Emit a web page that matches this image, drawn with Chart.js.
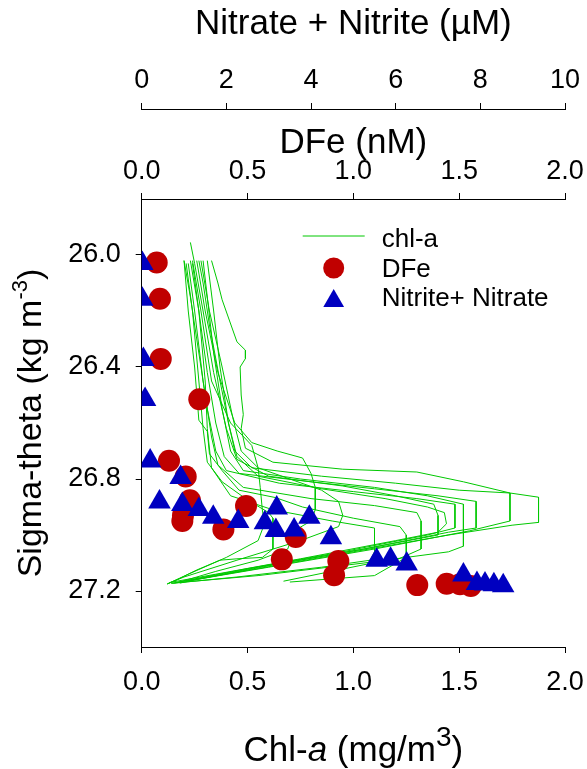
<!DOCTYPE html>
<html>
<head>
<meta charset="utf-8">
<script src="https://cdn.jsdelivr.net/npm/chart.js@4.4.0/dist/chart.umd.min.js"></script>
<style>
  html, body { margin: 0; padding: 0; background: #fff; }
</style>
</head>
<body>
<canvas id="myChart" width="587" height="769"></canvas>
<script>
// tick values for the four axes
var sigmaTicks = [26.0, 26.4, 26.8, 27.2];
var chlTicks = [0, 0.5, 1.0, 1.5, 2.0];
var dfeTicks = [0, 0.5, 1.0, 1.5, 2.0];
var no3Ticks = [0, 2, 4, 6, 8, 10];

// DFe (nM) bottle samples and their sigma-theta
var dfeVal   = [0.071, 0.086, 0.090, 0.272, 0.129, 0.208, 0.228, 0.195, 0.192, 0.386, 0.493, 0.728, 0.662, 0.929, 0.909, 1.302, 1.441, 1.504, 1.555];
var dfeSigma = [26.027, 26.156, 26.371, 26.515, 26.735, 26.791, 26.876, 26.93, 26.95, 26.98, 26.896, 27.007, 27.087, 27.093, 27.144, 27.179, 27.174, 27.176, 27.182];

// Nitrate + Nitrite (uM) samples and their sigma-theta
var no3Val   = [0.015, 0.015, 0.04, 0.08, 0.20, 0.92, 0.42, 0.96, 1.35, 1.69, 2.28, 2.91, 3.19, 3.17, 3.60, 3.96, 4.47, 5.55, 5.88, 6.26, 7.60, 7.92, 8.11, 8.32, 8.54];
var no3Sigma = [26.03, 26.158, 26.373, 26.516, 26.736, 26.795, 26.882, 26.891, 26.909, 26.937, 26.952, 26.956, 26.904, 26.984, 26.982, 26.937, 27.01, 27.09, 27.087, 27.104, 27.143, 27.173, 27.175, 27.178, 27.181];

// chl-a casts, [chl (mg/m3), sigma-theta]
var cast01 = [[0.33,26.02],[0.36,26.10],[0.38,26.16],[0.45,26.31],[0.49,26.34],[0.49,26.37],[0.465,26.40],[0.47,26.5],[0.48,26.57],[0.47,26.62],[0.49,26.69],[0.62,26.74],[0.95,26.765],[1.30,26.775],[1.52,26.81],[1.74,26.85],[1.875,26.865],[1.875,26.955],[1.75,26.965],[1.45,27.0],[1.00,27.06],[0.55,27.12],[0.20,27.165],[0.15,27.172]];
var cast02 = [[0.27,26.02],[0.29,26.1],[0.32,26.25],[0.37,26.45],[0.41,26.6],[0.44,26.7],[0.52,26.76],[0.85,26.79],[1.20,26.815],[1.50,26.84],[1.74,26.85],[1.74,26.95],[1.55,26.985],[1.10,27.05],[0.60,27.115],[0.25,27.16],[0.18,27.172]];
var cast03 = [[0.23,26.02],[0.27,26.2],[0.31,26.42],[0.35,26.6],[0.39,26.72],[0.46,26.78],[0.80,26.81],[1.10,26.835],[1.40,26.86],[1.58,26.88],[1.58,26.975],[1.45,26.99],[1.05,27.05],[0.60,27.11],[0.22,27.165]];
var cast04 = [[0.29,26.02],[0.31,26.15],[0.34,26.35],[0.38,26.55],[0.42,26.7],[0.48,26.77],[0.75,26.80],[1.10,26.83],[1.35,26.86],[1.52,26.89],[1.52,27.04],[1.45,27.06],[1.05,27.10],[0.55,27.145],[0.14,27.172]];
var cast05 = [[0.20,26.02],[0.23,26.15],[0.27,26.35],[0.31,26.55],[0.35,26.7],[0.40,26.77],[0.65,26.815],[1.00,26.845],[1.30,26.87],[1.48,26.89],[1.48,26.975],[1.35,27.0],[0.95,27.06],[0.50,27.12],[0.16,27.17]];
var cast06 = [[0.31,26.02],[0.34,26.2],[0.37,26.4],[0.41,26.6],[0.45,26.72],[0.55,26.79],[0.85,26.835],[1.15,26.87],[1.35,26.9],[1.43,26.92],[1.44,26.96],[1.40,26.99],[1.20,27.02],[0.75,27.085],[0.35,27.14],[0.13,27.17]];
var cast07 = [[0.22,26.03],[0.25,26.2],[0.29,26.45],[0.33,26.65],[0.36,26.75],[0.48,26.83],[0.80,26.87],[1.10,26.895],[1.30,26.92],[1.32,26.95],[1.32,27.05],[1.20,27.09],[1.09,27.1],[0.67,27.165]];
var cast08 = [[0.24,26.03],[0.27,26.2],[0.30,26.45],[0.31,26.62],[0.33,26.76],[0.42,26.86],[0.62,26.91],[0.90,26.95],[1.10,26.975],[1.10,27.06],[1.08,27.09],[0.85,27.115],[0.45,27.15],[0.14,27.173]];
var cast09 = [[0.26,26.02],[0.30,26.2],[0.36,26.42],[0.44,26.6],[0.52,26.67],[0.64,26.70],[0.76,26.725],[0.80,26.78],[0.82,26.83],[0.82,26.91],[0.80,26.95],[0.72,26.985],[0.69,27.05],[0.55,27.09],[0.35,27.13],[0.17,27.17]];
var cast10 = [[0.21,26.03],[0.24,26.2],[0.27,26.45],[0.29,26.62],[0.31,26.74],[0.38,26.81],[0.50,26.875],[0.60,26.92],[0.62,26.94],[0.62,27.05],[0.57,27.08],[0.45,27.085],[0.37,27.09],[0.26,27.125],[0.18,27.155],[0.13,27.172]];
var cast11 = [[0.24,26.02],[0.28,26.2],[0.33,26.45],[0.42,26.6],[0.52,26.68],[0.55,26.76],[0.56,26.83],[0.57,26.91],[0.58,26.96],[0.55,27.02],[0.40,27.08],[0.22,27.14],[0.12,27.175]];
var cast12 = [[0.20,26.02],[0.22,26.2],[0.25,26.4],[0.27,26.59],[0.31,26.63],[0.32,26.71],[0.38,26.77],[0.46,26.84],[0.63,26.866],[0.76,26.90],[1.00,26.94],[1.22,26.97],[1.25,27.0],[1.25,27.08],[1.10,27.145],[0.70,27.168]];
var cast13 = [[0.23,25.955],[0.25,26.03],[0.29,26.2],[0.34,26.42],[0.40,26.62],[0.45,26.73],[0.60,26.79],[0.95,26.825],[1.20,26.86],[1.38,26.89],[1.40,26.93],[1.40,27.0],[1.05,27.05],[0.55,27.115],[0.21,27.165]];
var cast14 = [[0.28,26.02],[0.32,26.2],[0.38,26.4],[0.43,26.58],[0.47,26.7],[0.55,26.76],[0.70,26.80],[0.85,26.84],[0.93,26.88],[0.95,26.93],[0.93,26.97],[0.75,27.02],[0.45,27.09],[0.20,27.15],[0.12,27.175]];

var casts = [cast01, cast02, cast03, cast04, cast05, cast06, cast07, cast08, cast09, cast10, cast11, cast12, cast13, cast14];

var fontFam = '"Liberation Sans", Arial, Helvetica, sans-serif';
var chlColor = 'rgb(0,200,0)';
var feColor = '#C00000';
var no3Color = '#0000C0';

function pts(xs, ys) {
	return xs.map(function (v, i) { return { x: v, y: ys[i] }; });
}

var datasets = [];

datasets.push({
	label: 'Nitrite+ Nitrate',
	data: pts(no3Val, no3Sigma),
	xAxisID: 'xN',
	yAxisID: 'y',
	pointStyle: 'triangle',
	pointRadius: 13,
	backgroundColor: no3Color,
	borderColor: no3Color,
	borderWidth: 0,
	order: 1
});

datasets.push({
	label: 'DFe',
	data: pts(dfeVal, dfeSigma),
	xAxisID: 'xFe',
	yAxisID: 'y',
	pointStyle: 'circle',
	pointRadius: 11,
	backgroundColor: feColor,
	borderColor: feColor,
	borderWidth: 0,
	order: 2
});

casts.forEach(function (c, i) {
	datasets.push({
		label: 'chl-a ' + (i + 1),
		data: c.map(function (p) { return { x: p[0], y: p[1] }; }),
		xAxisID: 'x',
		yAxisID: 'y',
		showLine: true,
		borderColor: chlColor,
		borderWidth: 1,
		pointRadius: 0,
		fill: false,
		tension: 0,
		order: 3
	});
});

function fixedTicks(list) {
	return function (scale) {
		scale.ticks = list.map(function (v) { return { value: v }; });
	};
}

// fix the box size and drop the auto padding for end labels
function fitH(h) {
	return function (s) {
		s.height = h;
		s.paddingLeft = 0;
		s.paddingRight = 0;
	};
}

var tickFont = { family: fontFam, size: 27 };
var titleFont = { family: fontFam, size: 35 };

function axisGrid() {
	return { drawOnChartArea: false, color: '#000', tickColor: '#000', tickLength: 6, lineWidth: 1 };
}

// text with italic / superscript parts
function richText(ctx, parts, size, cx, baseY) {
	var total = 0;
	parts.forEach(function (p) {
		ctx.font = partFont(p, size);
		p.w = ctx.measureText(p[0]).width;
		total += p.w;
	});
	var x = cx - total / 2;
	parts.forEach(function (p) {
		ctx.font = partFont(p, size);
		var dy = p[1] === 'sup' ? -size * 0.42 : 0;
		ctx.fillText(p[0], x, baseY + dy);
		x += p.w;
	});
}
function partFont(p, size) {
	if (p[1] === 'i') return 'italic ' + size + 'px ' + fontFam;
	if (p[1] === 'sup') return Math.round(size * (p[2] || 0.75)) + 'px ' + fontFam;
	return size + 'px ' + fontFam;
}

var extras = {
	id: 'extras',
	afterDraw: function (chart) {
		var ctx = chart.ctx;
		var a = chart.chartArea;
		ctx.save();
		ctx.fillStyle = '#000';
		ctx.textBaseline = 'alphabetic';
		ctx.textAlign = 'left';

		// bottom title
		richText(ctx, [['Chl-', ''], ['a', 'i'], [' (mg/m', ''], ['3', 'sup', 0.8], [')', '']], 35, (a.left + a.right) / 2, 761);

		// left title (rotated)
		ctx.save();
		ctx.translate(41, (a.top + a.bottom) / 2);
		ctx.rotate(-Math.PI / 2);
		richText(ctx, [['Sigma-theta (kg m', ''], ['-3', 'sup', 0.65], [')', '']], 34, 0, 0);
		ctx.restore();

		// legend
		var lx = a.left + 192;
		ctx.strokeStyle = chlColor;
		ctx.lineWidth = 1;
		ctx.beginPath();
		ctx.moveTo(a.left + 161, a.top + 37);
		ctx.lineTo(a.left + 223, a.top + 37);
		ctx.stroke();

		ctx.fillStyle = feColor;
		Chart.helpers.drawPoint(ctx, { pointStyle: 'circle', radius: 10.5, borderWidth: 0 }, lx, a.top + 69);
		ctx.fillStyle = no3Color;
		Chart.helpers.drawPoint(ctx, { pointStyle: 'triangle', radius: 12, borderWidth: 0 }, lx, a.top + 102);

		ctx.fillStyle = '#000';
		ctx.font = '26px ' + fontFam;
		ctx.fillText('chl-a', a.left + 240, a.top + 47.5);
		ctx.fillText('DFe', a.left + 240, a.top + 77.5);
		ctx.fillText('Nitrite+ Nitrate', a.left + 240, a.top + 107);
		ctx.restore();
	}
};

var ctx = document.getElementById('myChart');
var myChart = new Chart(ctx, {
	type: 'scatter',
	data: { datasets: datasets },
	plugins: [extras],
	options: {
		responsive: false,
		animation: false,
		devicePixelRatio: 1,
		layout: { padding: { left: 0, right: 22, top: 0, bottom: 0 } },
		plugins: { legend: { display: false }, tooltip: { enabled: false } },
		scales: {
			x: {
				type: 'linear', position: 'bottom', min: 0, max: 2,
				afterBuildTicks: fixedTicks(chlTicks),
				afterFit: fitH(122),
				ticks: { font: tickFont, color: '#000', padding: 13, maxRotation: 0, callback: function (v) { return v.toFixed(1); } },
				grid: axisGrid(),
				border: { display: true, color: '#000', width: 1 }
			},
			xFe: {
				type: 'linear', position: 'top', min: 0, max: 2, weight: 0,
				afterBuildTicks: fixedTicks(dfeTicks),
				afterFit: fitH(90),
				ticks: { font: tickFont, color: '#000', padding: 5, maxRotation: 0, callback: function (v) { return v.toFixed(1); } },
				grid: axisGrid(),
				border: { display: true, color: '#000', width: 1 },
				title: { display: true, text: 'DFe (nM)', font: titleFont, color: '#000', padding: { top: 13, bottom: 0 } }
			},
			xN: {
				type: 'linear', position: 'top', min: 0, max: 10, weight: 1,
				afterBuildTicks: fixedTicks(no3Ticks),
				afterFit: fitH(109),
				ticks: { font: tickFont, color: '#000', padding: 6, maxRotation: 0, callback: function (v) { return String(v); } },
				grid: axisGrid(),
				border: { display: true, color: '#000', width: 1 },
				title: { display: true, text: 'Nitrate + Nitrite (\u00b5M)', font: titleFont, color: '#000', padding: { top: 3, bottom: 0 } }
			},
			y: {
				type: 'linear', position: 'left', reverse: true, min: 25.8, max: 27.4,
				afterBuildTicks: fixedTicks(sigmaTicks),
				afterFit: function (s) { s.width = 141.7; s.paddingTop = 0; s.paddingBottom = 0; },
				ticks: { font: tickFont, color: '#000', padding: 15, callback: function (v) { return v.toFixed(1); } },
				grid: axisGrid(),
				border: { display: true, color: '#000', width: 1 }
			}
		}
	}
});
</script>
</body>
</html>
